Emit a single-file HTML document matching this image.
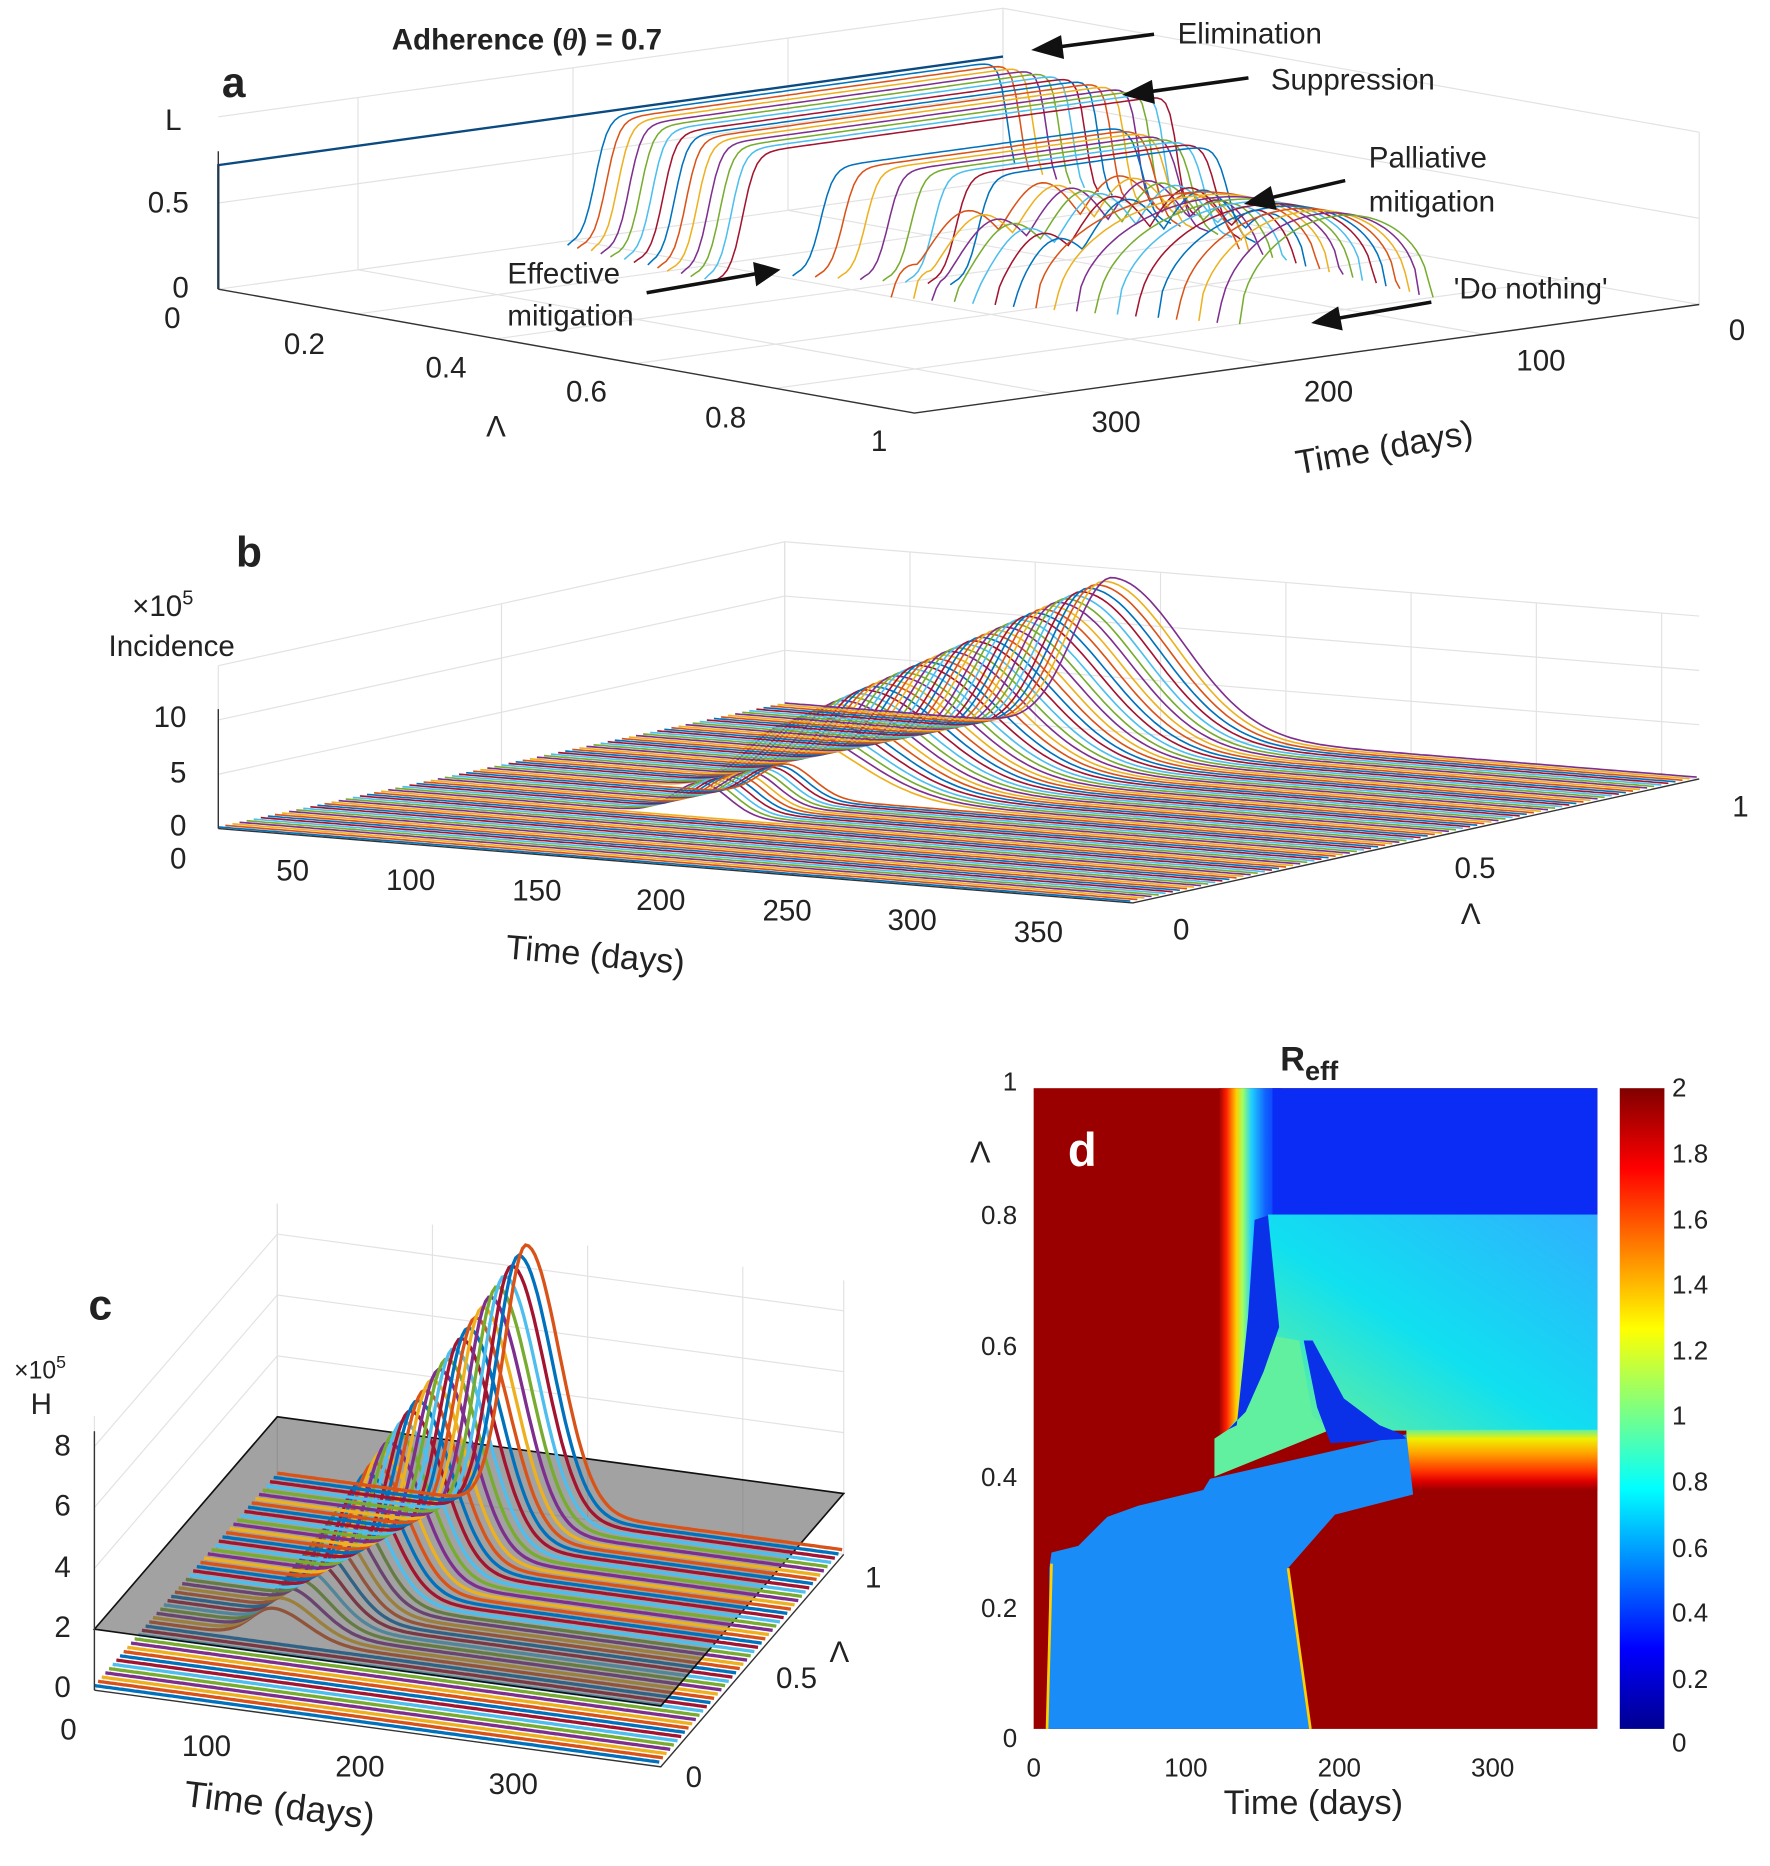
<!DOCTYPE html>
<html><head><meta charset="utf-8"><style>
html,body{margin:0;padding:0;background:#fff;}
svg{display:block;}
text{font-family:"Liberation Sans",sans-serif;fill:#222;}
</style></head><body>
<svg id="s" width="1770" height="1866" viewBox="0 0 1500 1581" preserveAspectRatio="none" xmlns="http://www.w3.org/2000/svg">
<defs>
<linearGradient id="jet" x1="0" y1="1" x2="0" y2="0">
<stop offset="0" stop-color="#00008f"/><stop offset="0.125" stop-color="#0000ff"/><stop offset="0.375" stop-color="#00ffff"/><stop offset="0.625" stop-color="#ffff00"/><stop offset="0.875" stop-color="#ff0000"/><stop offset="1" stop-color="#800000"/>
</linearGradient>
<linearGradient id="trans" x1="0" y1="0" x2="1" y2="0">
<stop offset="0" stop-color="#9a0000"/><stop offset="0.12" stop-color="#ff2000"/><stop offset="0.28" stop-color="#ffd000"/><stop offset="0.38" stop-color="#a0ff60"/><stop offset="0.52" stop-color="#20d0ff"/><stop offset="0.75" stop-color="#1060ff"/><stop offset="1" stop-color="#0a2cf5"/>
</linearGradient>
<linearGradient id="mid" x1="0" y1="1" x2="1" y2="0">
<stop offset="0" stop-color="#70f090"/><stop offset="0.45" stop-color="#10e0f0"/><stop offset="1" stop-color="#30b0ff"/>
</linearGradient>
<linearGradient id="band" x1="0" y1="0" x2="0" y2="1">
<stop offset="0" stop-color="#60f0a0"/><stop offset="0.15" stop-color="#f0f000"/><stop offset="0.4" stop-color="#ffa000"/><stop offset="0.7" stop-color="#ff3000"/><stop offset="0.85" stop-color="#e00000"/><stop offset="1" stop-color="#9a0000"/>
</linearGradient>
</defs>
<g id="grids" stroke="#e2e2e2" stroke-width="1" fill="none"></g>
<g id="curves" fill="none" stroke-width="1.4"></g>
<g id="axes" stroke="#333" stroke-width="1.2" fill="none"></g>

<g transform="translate(813.56,889.83) scale(0.3783)">
<rect x="165" y="85" width="1263" height="1435" fill="#9a0000"/>
<rect x="580" y="85" width="140" height="780" fill="url(#trans)"/>
<rect x="700" y="85" width="728" height="285" fill="#0a2cf5"/>
<rect x="690" y="368" width="738" height="484" fill="url(#mid)"/>
<rect x="1000" y="850" width="428" height="135" fill="url(#band)"/>
<polygon fill="#1a8cf8" points="198,1520 785,1520 735,1160 770,1120 840,1040 1015,995 1000,860 560,960 545,985 400,1020 330,1045 265,1110 205,1125 200,1160"/>
<polygon fill="#60f0a0" points="570,870 600,850 650,790 700,640 760,650 790,820 830,850 570,955"/>
<polygon fill="#0a30e8" points="620,840 645,600 660,380 690,370 705,520 715,620 680,720 640,810 600,850"/>
<polygon fill="#0a30e8" points="770,650 790,650 860,780 940,840 990,860 1000,870 830,880 800,800"/>
<polyline fill="none" stroke="#ffd000" stroke-width="6" points="195,1520 205,1150"/>
<polyline fill="none" stroke="#ffd000" stroke-width="6" points="785,1520 735,1160"/>
<rect x="1478" y="85" width="100" height="1435" fill="url(#jet)"/>
</g>
<g font-size="22">
<text x="905" y="988" font-size="40" font-weight="bold" style="fill:#fff">d</text>
<text x="1417" y="929">2</text><text x="1417" y="985">1.8</text><text x="1417" y="1041">1.6</text><text x="1417" y="1096">1.4</text><text x="1417" y="1152">1.2</text><text x="1417" y="1207">1</text><text x="1417" y="1263">0.8</text><text x="1417" y="1319">0.6</text><text x="1417" y="1374">0.4</text><text x="1417" y="1430">0.2</text><text x="1417" y="1484">0</text>
<text x="862" y="924" text-anchor="end">1</text><text x="862" y="1037" text-anchor="end">0.8</text><text x="862" y="1148" text-anchor="end">0.6</text><text x="862" y="1259" text-anchor="end">0.4</text><text x="862" y="1370" text-anchor="end">0.2</text><text x="862" y="1480" text-anchor="end">0</text>
<text x="822" y="985" font-family="Liberation Serif" font-size="26">Λ</text>
<text x="876" y="1505" text-anchor="middle">0</text><text x="1005" y="1505" text-anchor="middle">100</text><text x="1135" y="1505" text-anchor="middle">200</text><text x="1265" y="1505" text-anchor="middle">300</text>
<text x="1113" y="1537" text-anchor="middle" font-size="29">Time (days)</text>
<text x="1085" y="907" font-size="29" font-weight="bold">R<tspan font-size="23" dy="8">eff</tspan></text>
</g>

<g font-size="25">
<text x="332" y="42" font-weight="bold">Adherence (<tspan font-style="italic" font-family="Liberation Serif">θ</tspan>) = 0.7</text>
<text x="188" y="82" font-size="36" font-weight="bold">a</text>
<text x="140" y="110">L</text>
<text x="160" y="180" text-anchor="end">0.5</text>
<text x="160" y="252" text-anchor="end">0</text>
<text x="153" y="278" text-anchor="end">0</text>
<text x="258" y="300" text-anchor="middle">0.2</text><text x="378" y="320" text-anchor="middle">0.4</text><text x="497" y="340" text-anchor="middle">0.6</text><text x="615" y="362" text-anchor="middle">0.8</text><text x="745" y="382" text-anchor="middle">1</text>
<text x="412" y="370" font-family="Liberation Serif">Λ</text>
<text x="1465" y="288">0</text><text x="1285" y="314">100</text><text x="1105" y="340">200</text><text x="925" y="366">300</text>
<text x="1100" y="402" font-size="29" transform="rotate(-10 1100 402)">Time (days)</text>
<text x="998" y="37">Elimination</text>
<text x="1077" y="76">Suppression</text>
<text x="1160" y="142">Palliative</text><text x="1160" y="179">mitigation</text>
<text x="430" y="240">Effective</text><text x="430" y="276">mitigation</text>
<text x="1232" y="253">'Do nothing'</text>
</g>
<g stroke="#111" stroke-width="3" fill="#111">
<line x1="978" y1="29" x2="895" y2="40"/><polygon points="878,42 898,32 900,48"/>
<line x1="1058" y1="66" x2="972" y2="78"/><polygon points="955,80 975,70 977,86"/>
<line x1="1140" y1="153" x2="1075" y2="168"/><polygon points="1058,172 1076,160 1080,176"/>
<line x1="548" y1="248" x2="640" y2="232"/><polygon points="658,229 640,224 642,240"/>
<line x1="1213" y1="256" x2="1132" y2="270"/><polygon points="1115,273 1133,262 1136,278"/>
</g>

<g font-size="25">
<text x="200" y="480" font-size="36" font-weight="bold">b</text>
<text x="112" y="522">×10<tspan font-size="17" dy="-10">5</tspan></text>
<text x="92" y="556">Incidence</text>
<text x="158" y="616" text-anchor="end">10</text><text x="158" y="663" text-anchor="end">5</text><text x="158" y="708" text-anchor="end">0</text><text x="158" y="736" text-anchor="end">0</text>
<text x="248" y="746" text-anchor="middle">50</text><text x="348" y="754" text-anchor="middle">100</text><text x="455" y="763" text-anchor="middle">150</text><text x="560" y="771" text-anchor="middle">200</text><text x="667" y="780" text-anchor="middle">250</text><text x="773" y="788" text-anchor="middle">300</text><text x="880" y="798" text-anchor="middle">350</text>
<text x="428" y="812" font-size="29" transform="rotate(5 428 812)">Time (days)</text>
<text x="1001" y="796" text-anchor="middle">0</text><text x="1250" y="744" text-anchor="middle">0.5</text><text x="1475" y="692" text-anchor="middle">1</text>
<text x="1238" y="783" font-family="Liberation Serif">Λ</text>
</g>

<g font-size="25">
<text x="75" y="1118" font-size="36" font-weight="bold">c</text>
<text x="12" y="1168" font-size="21">×10<tspan font-size="15" dy="-9">5</tspan></text>
<text x="26" y="1198">H</text>
<text x="60" y="1233" text-anchor="end">8</text><text x="60" y="1284" text-anchor="end">6</text><text x="60" y="1336" text-anchor="end">4</text><text x="60" y="1387" text-anchor="end">2</text><text x="60" y="1438" text-anchor="end">0</text>
<text x="58" y="1474" text-anchor="middle">0</text><text x="175" y="1488" text-anchor="middle">100</text><text x="305" y="1505" text-anchor="middle">200</text><text x="435" y="1520" text-anchor="middle">300</text>
<text x="155" y="1530" font-size="31" transform="rotate(7 155 1530)">Time (days)</text>
<text x="588" y="1514" text-anchor="middle">0</text><text x="675" y="1430" text-anchor="middle">0.5</text><text x="740" y="1345" text-anchor="middle">1</text>
<text x="703" y="1408" font-family="Liberation Serif">Λ</text>
</g>
</svg>
<script>
(function(){
var NS="http://www.w3.org/2000/svg";
var C=["#0072BD","#D95319","#EDB120","#7E2F8E","#77AC30","#4DBEEE","#A2142F"];
var gC=document.getElementById("curves"),gG=document.getElementById("grids"),gA=document.getElementById("axes");
function path(g,pts,col,w){if(pts.length<2)return;var p=document.createElementNS(NS,"path");var d="";for(var i=0;i<pts.length;i++){d+=(i?"L":"M")+pts[i][0].toFixed(1)+" "+pts[i][1].toFixed(1);}p.setAttribute("d",d);if(col)p.setAttribute("stroke",col);if(w)p.setAttribute("stroke-width",w);g.appendChild(p);return p;}
function sig(x){return 1/(1+Math.exp(-x));}
function Pa(L,t,z){return [185+590*L+(365-t)/365*665, 245+105*L-(365-t)/365*92-146*z];}
for(var i=0;i<=5;i++){var L=i/5;path(gG,[Pa(L,365,0),Pa(L,0,0)]);}
for(var t=0;t<=300;t+=100){path(gG,[Pa(0,t,0),Pa(1,t,0)]);path(gG,[Pa(0,t,0),Pa(0,t,1)]);}
path(gG,[Pa(0,0,0),Pa(0,0,1)]);path(gG,[Pa(1,0,0),Pa(1,0,1)]);
path(gG,[Pa(0,365,0.5),Pa(0,0,0.5),Pa(1,0,0.5)]);path(gG,[Pa(0,365,1),Pa(0,0,1),Pa(1,0,1)]);
path(gA,[Pa(0,365,0),Pa(1,365,0),Pa(1,0,0)]);path(gA,[Pa(0,365,0),Pa(0,365,0.8)]);
path(gC,[Pa(0,365,0),Pa(0,365,0.72),Pa(0,0,0.72)],"#0a4a80",2);
var k=0;
for(var L=0.02;L<0.99;L+=0.02){var pts=[];for(var t=365;t>=0;t-=2){var z=0;
 if(L<0.3){var tE=195+60*L;z=0.72*sig((tE-t)/3)*sig((t-4-20*L)/2);}
 else if(L<0.46){var tE=150+(0.46-L)*200;z=0.6*sig((tE-t)/3)*sig((t-20-L*40)/3);}
 else if(L<0.82){var a=40+(L-0.46)*60,b=200-(L-0.46)*150;var c=(a+b)/2,r=(b-a)/2;var u=(t-c)/r;z=Math.abs(u)<1?0.55*Math.sqrt(1-u*u):0; if(L<0.6) z*=0.6+0.4*Math.abs(Math.sin(t/12));}
 if(z>0.012){pts.push(Pa(L,t,z));}else{ if(pts.length){pts.push(Pa(L,t,0));path(gC,pts,C[k%7],1.3);pts=[];} else {pts=[];} }
 if(z>0.012&&pts.length==1){pts.unshift(Pa(L,t+2,0));}
 }
 path(gC,pts,C[k%7],1.3);k++;}
function Pb(L,t,I){return [185+775*t/365+480*L, 702+63*t/365-105*L-9.2*I];}
for(var t=0;t<=365;t+=50){path(gG,[Pb(1,t,0),Pb(1,t,15)]);}
for(var L=0;L<=1;L+=0.5){path(gG,[Pb(L,0,0),Pb(L,0,15)]);}
for(var I=0;I<=15;I+=5){path(gG,[Pb(0,0,I),Pb(1,0,I),Pb(1,365,I)]);}
path(gA,[Pb(0,0,0),Pb(0,365,0),Pb(1,365,0)]);path(gA,[Pb(0,0,0),Pb(0,0,11)]);
k=0;
for(var L=0;L<=1.001;L+=0.0125){var pts=[];for(var t=0;t<=365;t+=2){var I=0.15;
 if(L>=0.3&&L<0.46){var tp=125;I+=3*Math.exp(-Math.pow((t-tp)/15,2));}
 else if(L>=0.46){var h=6+8*(L-0.46)/0.54,tp=120+20*(L-0.46);var w=t<tp?22:40;I+=h*Math.exp(-Math.pow((t-tp)/w,2));}
 pts.push(Pb(L,t,I));}
 path(gC,pts,C[k%7],1.4);k++;}
function Pc(L,t,H){return [80+480*t/365+155*L, 1432+65*t/365-180*L-25.8*H];}
for(var t=0;t<=365;t+=100){path(gG,[Pc(1,t,0),Pc(1,t,9)]);}
path(gG,[Pc(0,0,0),Pc(0,0,9)]);path(gG,[Pc(1,0,0),Pc(1,0,9)]);path(gG,[Pc(1,365,0),Pc(1,365,9)]);
for(var H=0;H<=9;H+=2){path(gG,[Pc(0,0,H),Pc(1,0,H),Pc(1,365,H)]);}
k=0;
for(var L=0;L<=1.001;L+=0.02){var pts=[];for(var t=0;t<=365;t+=2){var H=0.15;
 if(L>=0.3){var h=1+7.6*(L-0.3)/0.7,tp=80+(L-0.3)*115;var w=t<tp?20:30;H+=h*Math.exp(-Math.pow((t-tp)/w,2));}
 pts.push(Pc(L,t,H));}
 path(gC,pts,C[k%7],2.8);k++;
 if(Math.abs(L-0.5)<0.011){var p=document.createElementNS(NS,"polygon");var q=[Pc(0,0,2),Pc(0,365,2),Pc(1,365,2),Pc(1,0,2)];p.setAttribute("points",q.map(function(a){return a.join(",")}).join(" "));p.setAttribute("fill","#555");p.setAttribute("fill-opacity","0.55");p.setAttribute("stroke","#111");gC.appendChild(p);}
}
path(gA,[Pc(0,0,0),Pc(0,0,8.5)]);path(gA,[Pc(0,0,0),Pc(0,365,0),Pc(1,365,0)]);
})();
</script>
</body></html>
